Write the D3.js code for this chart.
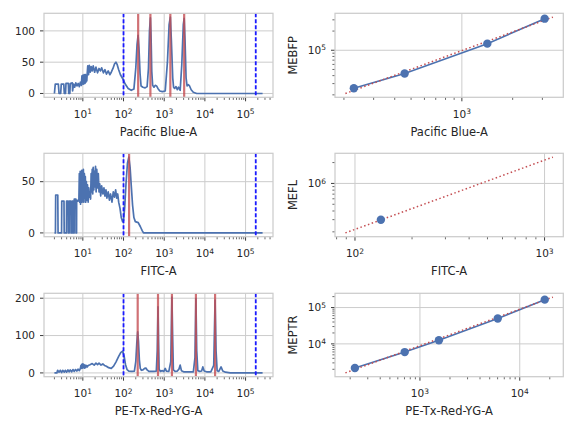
<!DOCTYPE html>
<html lang="en">
<head>
    <meta charset="UTF-8">
    <title>MEF bead calibration</title>
    <script src="https://d3js.org/d3.v7.min.js"></script>
    <style>
        body {
            margin: 0;
            background: #ffffff;
        }

        svg {
            display: block;
            font-family: "DejaVu Sans", sans-serif;
        }

        .tick-label {
            font-size: 10.5px;
            fill: #262626;
        }

        .axis-label {
            font-size: 11.5px;
            fill: #262626;
        }
    </style>
</head>
<body>
<script>
    // channel / MEF names
    const channels = ["Pacific Blue-A", "FITC-A", "PE-Tx-Red-YG-A"];
    const mefNames = ["MEBFP", "MEFL", "MEPTR"];

    // gate limits (blue dashed)
    const gates = [100, 178000];

    // y tick labels of the histograms
    const histTicks = [[0, 50, 100], [0, 50], [0, 100, 200]];

    // histograms: [channel value, events]
    const pbHist = [
        [2.0, 0], [2.1, 15], [2.5, 15], [2.6, 0], [2.85, 0], [2.95, 15], [3.4, 15], [3.5, 0], [3.75, 0], [3.85, 16],
        [4.4, 16], [4.5, 0], [4.8, 0], [4.9, 16], [5.5, 17], [5.6, 4], [5.9, 15], [6.3, 10], [6.7, 17], [7.2, 12],
        [7.7, 16], [8.2, 11], [8.7, 18], [9.2, 13], [9.5, 28], [9.7, 15], [9.9, 29], [10.1, 16], [10.3, 28], [10.5, 15],
        [10.7, 30], [10.9, 17], [11.1, 29], [11.3, 16], [11.6, 30], [11.9, 18], [12.2, 29], [12.5, 20], [12.8, 32],
        [13.2, 44], [13.8, 30], [14.4, 45], [15.2, 34], [16, 43], [17, 36], [18, 44], [19.5, 34], [21, 42], [23, 33],
        [25, 40], [27, 36], [29, 41], [32, 33], [35, 38], [38, 31], [42, 36], [46, 30], [50, 34], [55, 40], [60, 47],
        [65, 50], [70, 46], [76, 38], [84, 30], [95, 24], [110, 15], [130, 8], [155, 5], [180, 7], [200, 40], [215, 78],
        [228, 93], [240, 72], [255, 32], [270, 12], [300, 10], [340, 9], [380, 11], [410, 40], [435, 100], [458, 121],
        [475, 92], [495, 35], [520, 13], [560, 10], [600, 13], [650, 12], [700, 8], [780, 4], [900, 3], [1060, 4],
        [1200, 50], [1320, 110], [1415, 122], [1500, 85], [1620, 25], [1700, 10], [1800, 8], [1950, 11], [2100, 6],
        [2250, 10], [2470, 5], [2700, 45], [2950, 110], [3095, 120], [3250, 85], [3450, 25], [3650, 12], [3900, 14],
        [4200, 12], [4600, 6], [5200, 2], [6300, 0], [262144, 0]
    ];

    const fitcHist = [
        [2.0, 0], [2.12, 0], [2.15, 37], [2.42, 37], [2.46, 0], [3.0, 0], [3.03, 31], [3.44, 31], [3.48, 0], [3.95, 0],
        [3.98, 31], [4.35, 31], [4.4, 0], [4.6, 0], [4.64, 31], [5.08, 31], [5.12, 0], [5.45, 0], [5.5, 31], [5.88, 31],
        [5.92, 0], [6.1, 0], [6.15, 33], [6.75, 33], [6.8, 0], [7.0, 0], [7.05, 32], [7.6, 31], [8.0, 33], [8.2, 58],
        [8.4, 30], [8.6, 60], [8.8, 28], [9.0, 57], [9.2, 32], [9.4, 61], [9.6, 30], [9.8, 55], [10.0, 35], [10.3, 62],
        [10.6, 30], [10.9, 58], [11.2, 34], [11.5, 55], [11.8, 30], [12.2, 50], [12.6, 32], [13.0, 47], [13.5, 30],
        [14.0, 44], [14.5, 35], [15.0, 40], [15.5, 33], [16.0, 58], [16.5, 40], [17.0, 62], [17.5, 38], [18.0, 64],
        [18.6, 42], [19.2, 60], [19.8, 45], [20.5, 65], [21.2, 40], [22, 62], [23, 44], [24, 58], [25, 40], [26, 48],
        [27.5, 36], [29, 46], [31, 38], [33, 44], [35, 36], [37, 42], [39, 34], [42, 40], [45, 32], [48, 38], [52, 30],
        [56, 40], [60, 35], [64, 42], [68, 34], [72, 38], [76, 30], [82, 24], [88, 15], [95, 11], [100, 12], [107, 25],
        [115, 48], [125, 68], [135, 74], [145, 64], [155, 46], [167, 27], [180, 15], [195, 11], [230, 10], [260, 6],
        [290, 2], [310, 0], [262144, 0]
    ];

    const peHist = [
        [2.0, 0], [2.3, 0], [2.4, 7], [2.6, 2], [2.8, 7], [3.0, 1], [3.2, 7], [3.5, 2], [3.7, 7], [4.0, 2], [4.3, 8],
        [4.6, 3], [4.9, 8], [5.3, 3], [5.7, 9], [6.1, 4], [6.6, 9], [7.1, 5], [7.6, 10], [8.2, 6], [8.7, 12], [9.0, 20],
        [9.2, 12], [9.4, 23], [9.7, 13], [10.0, 24], [10.3, 14], [10.6, 22], [10.9, 13], [11.3, 21], [11.7, 14],
        [12.2, 20], [12.8, 16], [13.5, 20], [15, 22], [17, 25], [19, 21], [21, 26], [23, 22], [25, 26], [28, 21],
        [31, 24], [34, 20], [38, 18], [43, 14], [50, 12], [57, 18], [65, 29], [76, 44], [86, 55], [95, 58], [103, 46],
        [112, 22], [122, 9], [135, 5], [160, 4], [185, 5], [200, 30], [212, 80], [223, 110], [233, 85], [245, 35],
        [258, 12], [275, 7], [300, 8], [330, 12], [355, 13], [380, 8], [420, 4], [550, 4], [640, 5], [675, 60],
        [704, 177], [725, 90], [750, 10], [800, 4], [900, 6], [980, 4], [1060, 12], [1130, 5], [1300, 4], [1450, 30],
        [1549, 203], [1610, 100], [1680, 8], [1850, 4], [2100, 5], [2300, 10], [2470, 21], [2650, 6], [3000, 3],
        [4000, 3], [5200, 3], [5700, 40], [6020, 199], [6300, 60], [6700, 6], [7500, 4], [8300, 5], [8900, 16],
        [9600, 5], [11000, 3], [14000, 3], [16500, 20], [17800, 195], [18800, 60], [20000, 6], [22000, 4], [25000, 16],
        [27500, 5], [32000, 2], [42000, 0], [262144, 0]
    ];

    // bead peak positions (channel units) and their assigned MEF values
    const pbPeaks = [229, 458, 1415, 3095];
    const pbMef = [25300, 43300, 127000, 313000];
    const fitcPeaks = [137];
    const fitcMef = [299000];
    const pePeaks = [223, 704, 1549, 6020, 17800];
    const peMef = [2180, 5950, 12600, 50100, 165000];

    // beads model (red dotted) end points
    const pbModelX = [204, 3464], pbModelY = [21000, 331000];
    const fitcModelX = [89, 1107], fitcModelY = [193000, 2400000];
    const peModelX = [179, 21500], peModelY = [1590, 194000];

    const blue = "#4c72b0", red = "#c44e52", ink = "#262626", gridColor = "#cccccc";

    const colX = [[44, 273], [335, 563.3]];
    const rowY = [[13.3, 97.3], [153.3, 236.7], [293.3, 376.7]];

    const svg = d3.select("body").append("svg")
        .attr("width", 576)
        .attr("height", 432);

    const back = svg.append("g");
    const mid = svg.append("g");
    const front = svg.append("g");

    // matplotlib style 5% margin, in log space
    function logPad(ext) {
        const a = Math.log10(ext[0]), b = Math.log10(ext[1]), p = (b - a) * 0.05;
        return [Math.pow(10, a - p), Math.pow(10, b + p)];
    }

    function logTicks(dom) {
        const major = [], minor = [];
        const k0 = Math.floor(Math.log10(dom[0])), k1 = Math.floor(Math.log10(dom[1]));
        for (let k = k0; k <= k1; k++) {
            for (let m = 1; m < 10; m++) {
                const v = m * Math.pow(10, k);
                if (v < dom[0] || v > dom[1]) continue;
                (m === 1 ? major : minor).push(v);
            }
        }
        return {major, minor};
    }

    function powLabel(text, v) {
        text.append("tspan").text("10");
        text.append("tspan")
            .attr("dy", -3.6)
            .style("font-size", "7.5px")
            .text(Math.round(Math.log10(v)));
    }

    function grid(x, y, xMajor, yMajor) {
        const [xl, xr] = x.range(), [yb, yt] = y.range();
        back.append("g").selectAll("line").data(xMajor).enter().append("line")
            .attr("x1", d => x(d)).attr("x2", d => x(d))
            .attr("y1", yb).attr("y2", yt)
            .attr("stroke", gridColor).attr("stroke-width", 1);
        back.append("g").selectAll("line").data(yMajor).enter().append("line")
            .attr("x1", xl).attr("x2", xr)
            .attr("y1", d => y(d)).attr("y2", d => y(d))
            .attr("stroke", gridColor).attr("stroke-width", 1);
    }

    function frame(x, y, xt, yt, yLog, xLabel, yLabel) {
        const [xl, xr] = x.range(), [yb, ytop] = y.range();
        const g = front.append("g");

        g.append("rect")
            .attr("x", xl).attr("y", ytop)
            .attr("width", xr - xl).attr("height", yb - ytop)
            .attr("fill", "none").attr("stroke", gridColor).attr("stroke-width", 1.25);

        g.selectAll(null).data(xt.major).enter().append("line")
            .attr("x1", d => x(d)).attr("x2", d => x(d))
            .attr("y1", yb + 0.6).attr("y2", yb + 4)
            .attr("stroke", ink).attr("stroke-width", 0.9);
        g.selectAll(null).data(xt.minor).enter().append("line")
            .attr("x1", d => x(d)).attr("x2", d => x(d))
            .attr("y1", yb + 0.6).attr("y2", yb + 2.6)
            .attr("stroke", ink).attr("stroke-width", 0.7);
        g.selectAll(null).data(xt.major).enter().append("text")
            .attr("class", "tick-label")
            .attr("x", d => x(d)).attr("y", yb + 20.5)
            .attr("text-anchor", "middle")
            .each(function (d) { powLabel(d3.select(this), d); });

        g.selectAll(null).data(yt.major).enter().append("line")
            .attr("x1", xl - 4).attr("x2", xl - 0.6)
            .attr("y1", d => y(d)).attr("y2", d => y(d))
            .attr("stroke", ink).attr("stroke-width", 0.9);
        g.selectAll(null).data(yt.minor).enter().append("line")
            .attr("x1", xl - 2.6).attr("x2", xl - 0.6)
            .attr("y1", d => y(d)).attr("y2", d => y(d))
            .attr("stroke", ink).attr("stroke-width", 0.7);
        const ylab = g.selectAll(null).data(yt.major).enter().append("text")
            .attr("class", "tick-label")
            .attr("x", xl - 9).attr("y", d => y(d) + 3.7)
            .attr("text-anchor", "end");
        if (yLog) ylab.each(function (d) { powLabel(d3.select(this), d); });
        else ylab.text(d => d);

        g.append("text")
            .attr("class", "axis-label")
            .attr("x", (xl + xr) / 2).attr("y", yb + 38.5)
            .attr("text-anchor", "middle")
            .text(xLabel);

        if (yLabel) {
            g.append("text")
                .attr("class", "axis-label")
                .attr("transform", `translate(${xl - 38},${(yb + ytop) / 2}) rotate(-90)`)
                .attr("text-anchor", "middle")
                .text(yLabel);
        }
    }

    function histPanel(row, hist, peaks, yTicks, label) {
        const x = d3.scaleLog()
            .domain(logPad(d3.extent(hist, d => d[0])))
            .range(colX[0]);
        const ymax = d3.max(hist, d => d[1]);
        const y = d3.scaleLinear()
            .domain([-0.05 * ymax, 1.05 * ymax])
            .range([rowY[row][1], rowY[row][0]]);
        const xt = logTicks(x.domain());

        grid(x, y, xt.major, yTicks);

        mid.append("path")
            .datum(hist)
            .attr("d", d3.line().x(d => x(d[0])).y(d => y(d[1])))
            .attr("fill", "none")
            .attr("stroke", blue)
            .attr("stroke-width", 1.7)
            .attr("stroke-linejoin", "round");

        mid.append("g").selectAll("line").data(peaks).enter().append("line")
            .attr("x1", d => x(d)).attr("x2", d => x(d))
            .attr("y1", rowY[row][0]).attr("y2", rowY[row][1])
            .attr("stroke", red).attr("stroke-opacity", 0.8).attr("stroke-width", 2.2);

        mid.append("g").selectAll("line").data(gates).enter().append("line")
            .attr("x1", d => x(d)).attr("x2", d => x(d))
            .attr("y1", rowY[row][0]).attr("y2", rowY[row][1])
            .attr("stroke", "#1a1aff").attr("stroke-width", 1.8)
            .attr("stroke-dasharray", "4,2");

        frame(x, y, xt, {major: yTicks, minor: []}, false, label, null);
    }

    function curvePanel(row, peaks, mef, modelX, modelY, xLabel, yLabel) {
        const x = d3.scaleLog()
            .domain(logPad(d3.extent(peaks.concat(modelX))))
            .range(colX[1]);
        const y = d3.scaleLog()
            .domain(logPad(d3.extent(mef.concat(modelY))))
            .range([rowY[row][1], rowY[row][0]]);
        const xt = logTicks(x.domain()), yt = logTicks(y.domain());

        grid(x, y, xt.major, yt.major);

        const pts = peaks.map((p, i) => [p, mef[i]]);
        if (pts.length > 1) {
            mid.append("path")
                .datum(pts)
                .attr("d", d3.line().x(d => x(d[0])).y(d => y(d[1])))
                .attr("fill", "none")
                .attr("stroke", blue)
                .attr("stroke-width", 1.6);
        }

        mid.append("path")
            .datum(modelX.map((v, i) => [v, modelY[i]]))
            .attr("d", d3.line().x(d => x(d[0])).y(d => y(d[1])))
            .attr("fill", "none")
            .attr("stroke", red)
            .attr("stroke-width", 1.5)
            .attr("stroke-dasharray", "1.5,2.5");

        mid.append("g").selectAll("circle").data(pts).enter().append("circle")
            .attr("cx", d => x(d[0]))
            .attr("cy", d => y(d[1]))
            .attr("r", 4.2)
            .attr("fill", blue);

        frame(x, y, xt, yt, true, xLabel, yLabel);
    }

    histPanel(0, pbHist, pbPeaks, histTicks[0], channels[0]);
    histPanel(1, fitcHist, fitcPeaks, histTicks[1], channels[1]);
    histPanel(2, peHist, pePeaks, histTicks[2], channels[2]);

    curvePanel(0, pbPeaks, pbMef, pbModelX, pbModelY, channels[0], mefNames[0]);
    curvePanel(1, fitcPeaks, fitcMef, fitcModelX, fitcModelY, channels[1], mefNames[1]);
    curvePanel(2, pePeaks, peMef, peModelX, peModelY, channels[2], mefNames[2]);
</script>
</body>
</html>
